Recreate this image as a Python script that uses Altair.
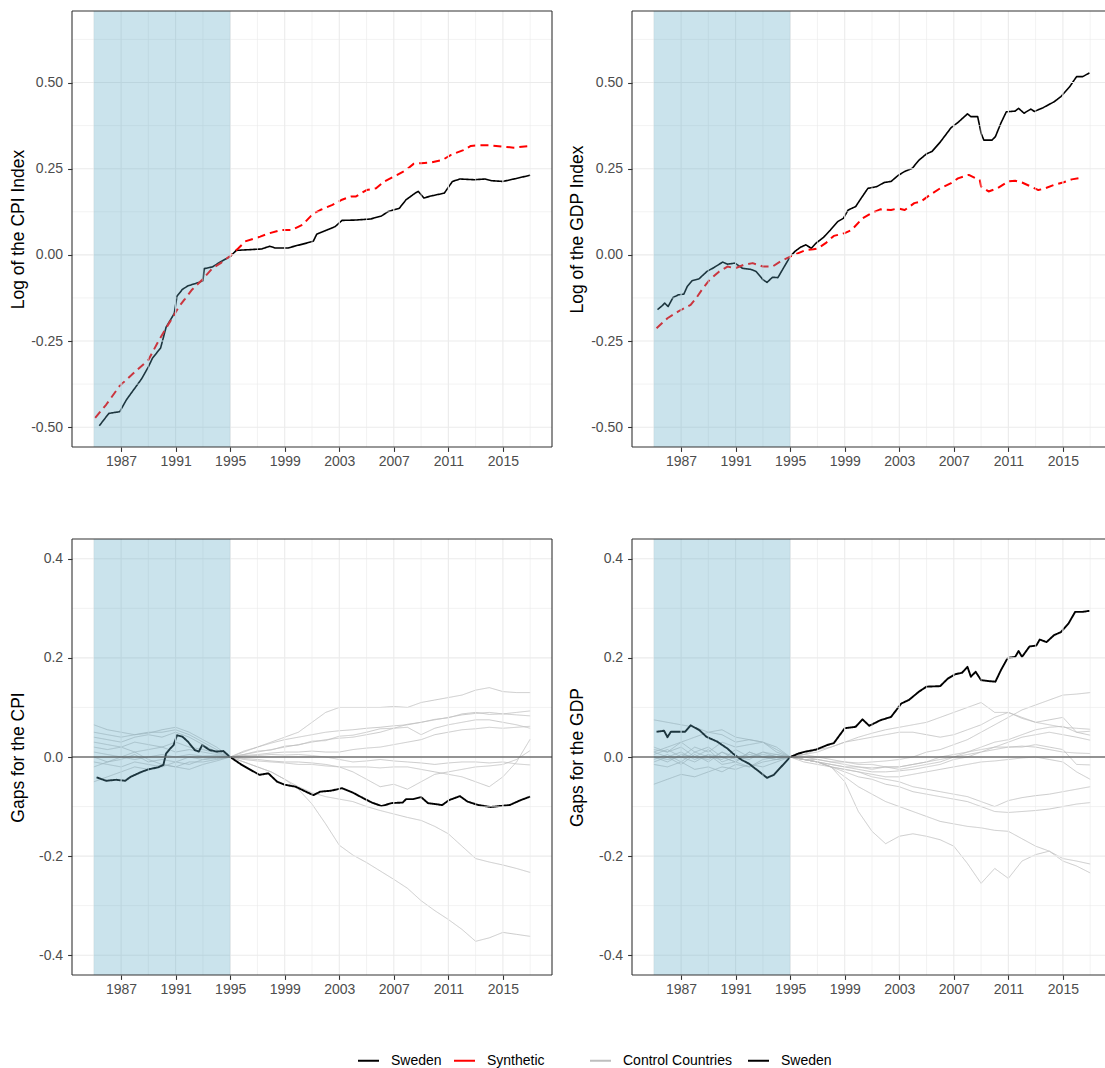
import altair as alt
import pandas as pd

FONT = "Liberation Sans"
GRID = "#EBEBEB"
FRAME = "#333333"
SHADE = "#59A8C4"

# shaded pre-treatment window
shade_start = [1985]
shade_end = [1995]

# axis ticks and minor grid positions
year_ticks = [1987, 1991, 1995, 1999, 2003, 2007, 2011, 2015]
year_minor = [1985, 1989, 1993, 1997, 2001, 2005, 2009, 2013, 2017]
level_ticks = [-0.5, -0.25, 0.0, 0.25, 0.5]
level_minor = [-0.375, -0.125, 0.125, 0.375, 0.625]
gap_ticks = [-0.4, -0.2, 0.0, 0.2, 0.4]
gap_minor = [-0.3, -0.1, 0.1, 0.3]

# ---- log CPI index: Sweden vs synthetic ----
cpi_sweden_years = [1985.4, 1986.1, 1986.9, 1987.4, 1988.5, 1989.0, 1989.3, 1989.9, 1990.3, 1990.9,
                    1991.1, 1991.5, 1991.9, 1992.7, 1993.0, 1993.1, 1993.7, 1994.3, 1995.0, 1995.45,
                    1996.4, 1997.3, 1997.9, 1998.3, 1999.25, 1999.8, 2000.6, 2001.1, 2001.35, 2002.1,
                    2002.7, 2003.2, 2004.2, 2005.3, 2006.1, 2006.6, 2007.4, 2007.9, 2008.6, 2008.8,
                    2009.2, 2009.75, 2010.7, 2011.3, 2011.85, 2012.9, 2013.7, 2014.2, 2015.0, 2015.8, 2017.0]
cpi_sweden = [-0.496, -0.46, -0.455, -0.42, -0.36, -0.325, -0.30, -0.27, -0.21, -0.17,
              -0.12, -0.10, -0.09, -0.08, -0.075, -0.04, -0.035, -0.02, -0.005, 0.013,
              0.015, 0.017, 0.025, 0.02, 0.02, 0.026, 0.034, 0.04, 0.06, 0.072,
              0.082, 0.10, 0.101, 0.104, 0.113, 0.126, 0.135, 0.16, 0.18, 0.184,
              0.165, 0.171, 0.179, 0.213, 0.22, 0.218, 0.22, 0.215, 0.213, 0.22, 0.231]
cpi_synth_years = [1985.1, 1985.9, 1986.9, 1988.2, 1989.0, 1989.8, 1990.6, 1991.25, 1992.2, 1992.95,
                   1993.7, 1994.3, 1995.0, 1995.6, 1996.1, 1997.2, 1997.9, 1998.7, 1999.5, 2000.3,
                   2001.1, 2001.6, 2002.5, 2003.2, 2003.85, 2004.2, 2005.0, 2005.7, 2006.3, 2007.25,
                   2007.9, 2008.45, 2009.0, 2009.75, 2010.55, 2011.2, 2012.1, 2012.65, 2013.2, 2013.95,
                   2015.0, 2015.8, 2017.0]
cpi_synth = [-0.473, -0.435, -0.38, -0.333, -0.305, -0.246, -0.193, -0.15, -0.101, -0.072,
             -0.039, -0.024, -0.003, 0.019, 0.039, 0.053, 0.063, 0.072, 0.072, 0.087,
             0.12, 0.13, 0.145, 0.16, 0.169, 0.169, 0.188, 0.193, 0.213, 0.232,
             0.246, 0.264, 0.266, 0.268, 0.275, 0.29, 0.304, 0.316, 0.318, 0.318,
             0.314, 0.311, 0.316]

# ---- log GDP index: Sweden vs synthetic ----
gdp_sweden_years = [1985.27, 1985.6, 1985.8, 1986.05, 1986.4, 1986.8, 1987.2, 1987.45, 1987.8, 1988.3,
                    1988.9, 1989.4, 1990.05, 1990.4, 1990.95, 1991.5, 1992.1, 1992.5, 1993.0, 1993.3,
                    1993.7, 1994.1, 1994.45, 1995.0, 1995.35, 1995.75, 1996.15, 1996.55, 1996.9, 1997.45,
                    1997.95, 1998.5, 1998.9, 1999.25, 1999.8, 2000.2, 2000.7, 2001.35, 2001.9, 2002.4,
                    2002.9, 2003.4, 2003.95, 2004.45, 2005.0, 2005.4, 2006.0, 2006.8, 2007.3, 2008.0,
                    2008.25, 2008.75, 2009.0, 2009.2, 2009.8, 2010.05, 2010.45, 2010.85, 2011.5, 2011.75,
                    2012.15, 2012.65, 2012.9, 2013.55, 2014.35, 2014.85, 2015.5, 2016.0, 2016.45, 2016.95]
gdp_sweden = [-0.159, -0.148, -0.14, -0.15, -0.124, -0.116, -0.114, -0.092, -0.075, -0.07,
              -0.048, -0.037, -0.021, -0.027, -0.024, -0.039, -0.042, -0.048, -0.072, -0.08,
              -0.065, -0.066, -0.042, -0.005, 0.01, 0.022, 0.029, 0.019, 0.034, 0.051,
              0.072, 0.097, 0.106, 0.13, 0.14, 0.164, 0.193, 0.198, 0.21, 0.213,
              0.23, 0.242, 0.251, 0.275, 0.293, 0.30, 0.327, 0.369, 0.384, 0.409,
              0.401, 0.401, 0.353, 0.333, 0.333, 0.343, 0.382, 0.415, 0.417, 0.425,
              0.411, 0.423, 0.416, 0.427, 0.444, 0.459, 0.488, 0.517, 0.517, 0.528]
gdp_synth_years = [1985.2, 1986.0, 1986.8, 1987.7, 1988.1, 1988.6, 1989.1, 1989.8, 1990.4, 1990.95,
                   1991.6, 1992.25, 1993.0, 1993.7, 1994.3, 1995.0, 1995.6, 1996.15, 1996.7, 1997.05,
                   1997.6, 1998.2, 1999.0, 1999.5, 2000.3, 2000.95, 2001.6, 2002.4, 2002.9, 2003.4,
                   2004.1, 2004.6, 2005.25, 2006.0, 2006.8, 2007.3, 2008.1, 2008.6, 2008.9, 2009.0,
                   2009.55, 2010.2, 2011.0, 2011.5, 2012.0, 2012.55, 2013.2, 2013.7, 2014.35, 2015.0,
                   2015.65, 2016.45]
gdp_synth = [-0.213, -0.184, -0.164, -0.145, -0.126, -0.097, -0.072, -0.048, -0.034, -0.039,
             -0.029, -0.024, -0.034, -0.034, -0.019, -0.005, 0.005, 0.014, 0.016, 0.019,
             0.034, 0.055, 0.063, 0.072, 0.106, 0.121, 0.132, 0.13, 0.135, 0.13,
             0.15, 0.155, 0.174, 0.193, 0.208, 0.222, 0.232, 0.222, 0.217, 0.198,
             0.184, 0.193, 0.213, 0.215, 0.21, 0.2, 0.188, 0.193, 0.203, 0.21,
             0.219, 0.224]

# ---- CPI gaps (actual minus synthetic) ----
cpi_gap_years = [1985.2, 1985.9, 1986.65, 1987.3, 1987.7, 1988.5, 1989.0, 1989.7, 1990.1, 1990.3,
                 1990.6, 1990.85, 1991.1, 1991.5, 1991.9, 1992.4, 1992.7, 1992.95, 1993.5, 1994.0,
                 1994.5, 1995.0, 1995.85, 1996.5, 1997.15, 1997.8, 1998.45, 1999.0, 1999.8, 2000.55,
                 2001.1, 2001.6, 2002.4, 2003.2, 2004.0, 2004.75, 2005.4, 2006.1, 2006.85, 2007.65,
                 2007.9, 2008.4, 2009.0, 2009.5, 2010.55, 2011.05, 2011.85, 2012.4, 2013.2, 2014.1,
                 2014.75, 2015.5, 2016.3, 2017.0]
cpi_gap_sweden = [-0.041, -0.048, -0.046, -0.048, -0.04, -0.03, -0.025, -0.021, -0.016, 0.007,
                  0.017, 0.024, 0.044, 0.041, 0.031, 0.014, 0.011, 0.024, 0.014, 0.011,
                  0.012, 0.0, -0.016, -0.026, -0.036, -0.033, -0.05, -0.056, -0.06, -0.07,
                  -0.077, -0.07, -0.068, -0.063, -0.072, -0.083, -0.092, -0.099, -0.093, -0.092,
                  -0.085, -0.085, -0.081, -0.093, -0.097, -0.087, -0.079, -0.09, -0.097, -0.101,
                  -0.099, -0.097, -0.087, -0.08]

# placebo gaps for the control countries, one value per year 1985-2017
control_years = [1985, 1986, 1987, 1988, 1989, 1990, 1991, 1992, 1993, 1994, 1995,
                 1996, 1997, 1998, 1999, 2000, 2001, 2002, 2003, 2004, 2005, 2006,
                 2007, 2008, 2009, 2010, 2011, 2012, 2013, 2014, 2015, 2016, 2017]
cpi_controls = [
    [0.065, 0.055, 0.05, 0.045, 0.048, 0.055, 0.06, 0.05, 0.035, 0.02, 0.0,
     0.012, 0.02, 0.03, 0.04, 0.05, 0.07, 0.09, 0.1, 0.1, 0.1, 0.1, 0.102, 0.1, 0.11, 0.115, 0.12,
     0.125, 0.135, 0.14, 0.132, 0.13, 0.13],
    [0.05, 0.045, 0.04, 0.045, 0.05, 0.05, 0.055, 0.045, 0.03, 0.015, 0.0,
     0.005, 0.012, 0.014, 0.022, 0.024, 0.032, 0.033, 0.042, 0.044, 0.05, 0.057, 0.058, 0.066, 0.07,
     0.076, 0.079, 0.087, 0.09, 0.086, 0.087, 0.09, 0.093],
    [0.04, 0.035, 0.03, 0.04, 0.045, 0.04, 0.05, 0.04, 0.025, 0.01, 0.0,
     0.01, 0.02, 0.028, 0.035, 0.04, 0.045, 0.05, 0.053, 0.055, 0.058, 0.06, 0.063, 0.065, 0.07,
     0.075, 0.08, 0.085, 0.088, 0.09, 0.087, 0.085, 0.083],
    [0.03, 0.025, 0.02, 0.03, 0.025, 0.02, 0.03, 0.02, 0.015, 0.008, 0.0,
     0.005, 0.01, 0.015, 0.02, 0.025, 0.03, 0.035, 0.038, 0.04, 0.045, 0.05, 0.058, 0.06, 0.045,
     0.058, 0.065, 0.07, 0.075, 0.075, 0.07, 0.065, 0.058],
    [0.02, 0.015, 0.02, 0.01, 0.015, 0.02, 0.01, 0.015, 0.01, 0.005, 0.0,
     0.003, 0.005, 0.008, 0.01, 0.01, 0.012, 0.01, 0.01, 0.015, 0.018, 0.02, 0.025, 0.03, 0.035,
     0.045, 0.05, 0.055, 0.057, 0.06, 0.058, 0.06, 0.062],
    [0.01, 0.005, 0.0, -0.005, 0.0, 0.005, 0.0, 0.005, 0.002, 0.003, 0.0,
     -0.005, -0.008, -0.01, -0.012, -0.015, -0.015, -0.018, -0.02, -0.02, -0.02, -0.022, -0.02,
     -0.02, -0.025, -0.03, -0.035, -0.04, -0.05, -0.06, -0.04, -0.01, 0.036],
    [0.0, -0.01, -0.005, 0.005, -0.01, -0.005, -0.01, 0.0, -0.005, 0.0, 0.0,
     -0.003, -0.005, -0.008, -0.01, -0.01, -0.012, -0.015, -0.02, -0.03, -0.045, -0.06, -0.055,
     -0.065, -0.05, -0.035, -0.03, -0.025, -0.02, -0.018, -0.015, -0.005, 0.013],
    [-0.01, -0.015, -0.02, -0.01, -0.015, -0.02, -0.01, -0.015, -0.005, -0.003, 0.0,
     0.002, 0.003, 0.005, 0.004, 0.005, 0.003, 0.0, -0.005, -0.01, -0.008, -0.005, -0.008, -0.01,
     -0.012, -0.015, -0.012, -0.01, -0.01, -0.012, -0.01, -0.014, -0.016],
    [-0.02, -0.01, 0.0, 0.01, -0.005, -0.015, -0.02, -0.01, -0.01, -0.005, 0.0,
     -0.01, -0.02, -0.03, -0.045, -0.06, -0.072, -0.08, -0.085, -0.09, -0.1, -0.108, -0.115,
     -0.122, -0.128, -0.14, -0.155, -0.18, -0.205, -0.212, -0.218, -0.225, -0.233],
    [-0.05, -0.04, -0.03, -0.02, -0.025, -0.015, -0.02, -0.025, -0.015, -0.008, 0.0,
     -0.01, -0.02, -0.03, -0.045, -0.065, -0.095, -0.135, -0.178, -0.198, -0.213, -0.23, -0.247,
     -0.265, -0.29, -0.31, -0.328, -0.348, -0.372, -0.365, -0.354, -0.358, -0.362],
]

# ---- GDP gaps (actual minus synthetic) ----
gdp_gap_years = [1985.2, 1985.75, 1986.0, 1986.25, 1987.3, 1987.7, 1988.35, 1988.85, 1989.65, 1990.4,
                 1990.8, 1991.45, 1991.95, 1992.75, 1993.3, 1993.8, 1994.3, 1995.0, 1995.6, 1996.15,
                 1996.9, 1997.7, 1998.2, 1999.0, 1999.8, 2000.3, 2000.8, 2001.6, 2002.4, 2003.15,
                 2003.7, 2004.45, 2005.0, 2006.0, 2006.55, 2007.1, 2007.6, 2008.0, 2008.25, 2008.6,
                 2009.0, 2009.65, 2010.05, 2010.45, 2010.95, 2011.5, 2011.75, 2012.0, 2012.55, 2013.05,
                 2013.3, 2013.8, 2014.35, 2014.85, 2015.4, 2015.9, 2016.45, 2016.95]
gdp_gap_sweden = [0.051, 0.053, 0.04, 0.051, 0.051, 0.064, 0.054, 0.041, 0.031, 0.017,
                  0.007, -0.006, -0.013, -0.03, -0.042, -0.036, -0.021, 0.0, 0.007, 0.011,
                  0.015, 0.024, 0.028, 0.058, 0.061, 0.076, 0.063, 0.074, 0.081, 0.108,
                  0.115, 0.132, 0.142, 0.143, 0.158, 0.167, 0.17, 0.182, 0.162, 0.172,
                  0.155, 0.153, 0.152, 0.175, 0.2, 0.202, 0.214, 0.202, 0.223, 0.225,
                  0.237, 0.232, 0.246, 0.252, 0.269, 0.293, 0.293, 0.295]
gdp_controls = [
    [0.075, 0.07, 0.065, 0.06, 0.05, 0.055, 0.04, 0.035, 0.03, 0.02, 0.0,
     0.005, 0.0, -0.005, -0.01, -0.012, -0.01, -0.008, -0.005, 0.0, 0.01, 0.015, 0.025, 0.035,
     0.05, 0.065, 0.08, 0.095, 0.105, 0.115, 0.125, 0.127, 0.13],
    [0.01, 0.02, 0.03, 0.04, 0.05, 0.045, 0.03, 0.035, 0.03, 0.015, 0.0,
     0.005, 0.01, 0.02, 0.03, 0.04, 0.048, 0.055, 0.06, 0.065, 0.07, 0.08, 0.09, 0.1, 0.11,
     0.09, 0.09, 0.08, 0.07, 0.065, 0.06, 0.058, 0.056],
    [0.005, 0.015, 0.0, 0.02, 0.01, 0.03, 0.02, 0.025, 0.03, 0.01, 0.0,
     0.005, 0.015, 0.02, 0.03, 0.035, 0.04, 0.045, 0.05, 0.05, 0.045, 0.04, 0.045, 0.055, 0.065,
     0.08, 0.09, 0.078, 0.07, 0.075, 0.08, 0.05, 0.052],
    [0.0, -0.01, 0.005, 0.0, -0.005, 0.01, 0.0, 0.005, 0.0, 0.005, 0.0,
     0.0, -0.005, -0.01, -0.015, -0.02, -0.022, -0.02, -0.025, -0.02, -0.015, -0.01, 0.0, 0.01,
     0.02, 0.03, 0.035, 0.045, 0.055, 0.06, 0.062, 0.05, 0.044],
    [-0.005, 0.005, -0.01, 0.01, 0.0, -0.005, 0.015, 0.0, 0.01, 0.005, 0.0,
     -0.005, -0.01, -0.015, -0.02, -0.025, -0.03, -0.03, -0.028, -0.025, -0.02, -0.015, -0.005,
     0.0, 0.01, 0.02, 0.03, 0.04, 0.045, 0.05, 0.045, 0.04, 0.034],
    [0.01, 0.0, 0.01, -0.005, 0.005, 0.0, -0.01, 0.01, 0.0, -0.005, 0.0,
     -0.005, -0.01, -0.015, -0.02, -0.02, -0.025, -0.02, -0.02, -0.015, -0.01, 0.0, 0.005, 0.01,
     0.015, 0.02, 0.02, 0.022, 0.02, 0.015, 0.01, 0.008, 0.007],
    [-0.01, 0.0, -0.015, 0.005, -0.01, 0.01, -0.005, 0.0, 0.005, 0.0, 0.0,
     -0.005, -0.005, -0.01, -0.01, -0.015, -0.015, -0.02, -0.02, -0.015, -0.01, -0.005, 0.0,
     0.005, 0.01, 0.015, 0.02, 0.02, 0.025, 0.02, 0.015, -0.015, -0.016],
    [0.015, 0.01, 0.02, 0.0, 0.015, -0.01, 0.0, -0.005, 0.01, 0.0, 0.0,
     -0.01, -0.015, -0.02, -0.025, -0.03, -0.035, -0.04, -0.04, -0.035, -0.03, -0.025, -0.02,
     -0.015, -0.01, -0.008, -0.005, -0.002, 0.0, -0.005, -0.01, -0.03, -0.045],
    [-0.015, -0.02, -0.01, -0.025, -0.02, -0.03, -0.015, -0.02, -0.01, -0.005, 0.0,
     -0.005, -0.01, -0.02, -0.025, -0.03, -0.04, -0.045, -0.05, -0.06, -0.065, -0.07, -0.075,
     -0.08, -0.09, -0.1, -0.088, -0.082, -0.078, -0.075, -0.07, -0.065, -0.06],
    [0.0, -0.005, 0.0, -0.01, 0.005, -0.015, -0.01, -0.02, -0.005, 0.0, 0.0,
     -0.005, -0.01, -0.02, -0.03, -0.04, -0.045, -0.055, -0.06, -0.07, -0.075, -0.08, -0.085,
     -0.09, -0.1, -0.11, -0.112, -0.11, -0.108, -0.105, -0.1, -0.095, -0.092],
    [-0.055, -0.045, -0.035, -0.04, -0.03, -0.02, -0.025, -0.015, -0.02, -0.01, 0.0,
     -0.005, -0.01, -0.02, -0.04, -0.06, -0.075, -0.09, -0.1, -0.11, -0.12, -0.13, -0.135,
     -0.14, -0.143, -0.148, -0.15, -0.165, -0.18, -0.19, -0.205, -0.21, -0.216],
    [0.02, 0.01, 0.03, 0.01, 0.02, 0.0, -0.01, 0.01, 0.0, -0.005, 0.0,
     -0.005, -0.01, -0.02, -0.05, -0.11, -0.15, -0.175, -0.16, -0.155, -0.16, -0.167, -0.18,
     -0.215, -0.255, -0.225, -0.245, -0.21, -0.197, -0.19, -0.21, -0.22, -0.234],
]

# ---------------------------------------------------------------- layout
PAGE_W, PAGE_H = 1105, 1068
LEFT, TOP = 72, 11
W_LEFT = 480
W_RIGHT = 473
H = 436
X_MIN, X_MAX = 1983.4, 2018.6
X_MAX_RIGHT = X_MIN + (X_MAX - X_MIN) * W_RIGHT / W_LEFT
LEVEL_DOMAIN = [-0.5575, 0.7075]
GAP_DOMAIN = [-0.44, 0.44]


def series_frame(pairs):
    rows = []
    for series, style, line, years, values in pairs:
        for y, v in zip(years, values):
            rows.append({"series": series, "style": style, "line": line, "year": y, "value": v})
    return pd.DataFrame(rows)


level_cpi = series_frame([("Sweden", "solid", "Sweden", cpi_sweden_years, cpi_sweden),
                          ("Synthetic", "dashed", "Synthetic", cpi_synth_years, cpi_synth)])
level_gdp = series_frame([("Sweden", "solid", "Sweden", gdp_sweden_years, gdp_sweden),
                          ("Synthetic", "dashed", "Synthetic", gdp_synth_years, gdp_synth)])
gap_cpi = series_frame([("Control Countries", "thin", f"c{i}", control_years, vals)
                        for i, vals in enumerate(cpi_controls)]
                       + [("Sweden", "thick", "Sweden", cpi_gap_years, cpi_gap_sweden)])
gap_gdp = series_frame([("Control Countries", "thin", f"g{i}", control_years, vals)
                        for i, vals in enumerate(gdp_controls)]
                       + [("Sweden", "thick", "Sweden", gdp_gap_years, gdp_gap_sweden)])


def make_legend(lx, ly, gap):
    return alt.Legend(orient="none", legendX=lx, legendY=ly, direction="horizontal",
                      title=None, symbolType="stroke", symbolSize=441, symbolStrokeWidth=2,
                      labelFont=FONT, labelFontSize=14, labelColor="black",
                      labelOffset=11, columnPadding=gap)


def panel(df, domain, colors, styles, dashes, widths, y_title, y_domain, y_ticks, y_minor,
          y_fmt, width, x_max, title_x, legend, zero_line, right_edge):
    xs = alt.Scale(domain=[X_MIN, x_max], nice=False, zero=False)
    ys = alt.Scale(domain=y_domain, nice=False, zero=False)
    label_expr = f"replace(format(datum.value, '{y_fmt}'), '\u2212', '-')"
    x_axis = alt.Axis(values=year_ticks, format="d", title=None, labelPadding=3, domain=False)
    y_axis = alt.Axis(values=y_ticks, labelExpr=label_expr, title=y_title,
                      titleX=title_x, titleY=H / 2, titleAngle=270,
                      labelPadding=5, domain=False)

    def xe(field):
        return alt.X(field, scale=xs, axis=x_axis)

    def ye(field):
        return alt.Y(field, scale=ys, axis=y_axis)

    def vgrid(values, w):
        return alt.Chart(pd.DataFrame({"year": values})).mark_rule(
            color=GRID, strokeWidth=w).encode(x=xe("year:Q"))

    def hgrid(values, w):
        return alt.Chart(pd.DataFrame({"value": values})).mark_rule(
            color=GRID, strokeWidth=w).encode(y=ye("value:Q"))

    lines = alt.Chart(df).mark_line(strokeJoin="round").encode(
        x=xe("year:Q"),
        y=ye("value:Q"),
        color=alt.Color("series:N", scale=alt.Scale(domain=domain, range=colors), legend=legend),
        strokeDash=alt.StrokeDash("style:N", scale=alt.Scale(domain=styles, range=dashes),
                                  legend=None),
        strokeWidth=alt.StrokeWidth("style:N", scale=alt.Scale(domain=styles, range=widths),
                                    legend=None),
        detail="line:N",
    )

    shade = alt.Chart(pd.DataFrame({"start": shade_start, "end": shade_end})).mark_rect(
        color=SHADE, opacity=0.32).encode(
        x=xe("start:Q"), x2="end:Q", y=alt.value(0), y2=alt.value(H))

    # panel frame
    one = pd.DataFrame({"k": [0]})
    frame = [
        alt.Chart(one).mark_rule(color=FRAME, strokeWidth=1.1).encode(
            x=alt.value(0), x2=alt.value(width), y=alt.value(0)),
        alt.Chart(one).mark_rule(color=FRAME, strokeWidth=1.1).encode(
            x=alt.value(0), x2=alt.value(width), y=alt.value(H)),
        alt.Chart(one).mark_rule(color=FRAME, strokeWidth=1.1).encode(
            x=alt.value(0), y=alt.value(0), y2=alt.value(H)),
    ]
    if right_edge:
        frame.append(alt.Chart(one).mark_rule(color=FRAME, strokeWidth=1.1).encode(
            x=alt.value(width), y=alt.value(0), y2=alt.value(H)))

    layers = [lines, vgrid(year_minor, 0.6), hgrid(y_minor, 0.6),
              vgrid(year_ticks, 1.1), hgrid(y_ticks, 1.1), shade]
    if zero_line:
        layers.append(alt.Chart(pd.DataFrame({"value": [0.0]})).mark_rule(
            color=FRAME, strokeWidth=1.1).encode(y=ye("value:Q")))
    layers.extend(frame)
    return alt.layer(*layers).properties(width=width, height=H)


level_domain = ["Sweden", "Synthetic"]
level_colors = ["#000000", "#FF0000"]
level_styles = ["solid", "dashed"]
level_dash = [[1, 0], [8, 5]]
level_width = [1.6, 2.0]

gap_domain = ["Control Countries", "Sweden"]
gap_colors = ["#BEBEBE", "#000000"]
gap_styles = ["thin", "thick"]
gap_dash = [[1, 0], [1, 0]]
gap_width = [0.8, 1.9]

tl = panel(level_cpi, level_domain, level_colors, level_styles, level_dash, level_width,
           "Log of the CPI Index", LEVEL_DOMAIN, level_ticks, level_minor, ".2f",
           W_LEFT, X_MAX, -45, make_legend(285, 1038, 8), False, True)
tr = panel(level_gdp, level_domain, level_colors, level_styles, level_dash, level_width,
           "Log of the GDP Index", LEVEL_DOMAIN, level_ticks, level_minor, ".2f",
           W_RIGHT, X_MAX_RIGHT, -45.5, None, False, False)
bl = panel(gap_cpi, gap_domain, gap_colors, gap_styles, gap_dash, gap_width,
           "Gaps for the CPI", GAP_DOMAIN, gap_ticks, gap_minor, ".1f",
           W_LEFT, X_MAX, -45, make_legend(517, 510, 12), True, True)
br = panel(gap_gdp, gap_domain, gap_colors, gap_styles, gap_dash, gap_width,
           "Gaps for the GDP", GAP_DOMAIN, gap_ticks, gap_minor, ".1f",
           W_RIGHT, X_MAX_RIGHT, -45.5, None, True, False)

# the page size is fixed through the padding; the grid is anchored at (LEFT, TOP)
chart = alt.concat(
    tl, tr, bl, br, columns=2, spacing={"row": 92, "column": 80}, bounds="flush"
).resolve_scale(
    color="independent", strokeDash="independent", strokeWidth="independent"
).resolve_legend(
    color="independent"
).properties(
    autosize=alt.AutoSizeParams(type="none"),
    padding={"left": LEFT, "top": TOP, "right": PAGE_W - LEFT, "bottom": PAGE_H - TOP},
    background="white",
).configure_view(
    stroke=None
).configure_axis(
    labelFont=FONT, labelFontSize=14, labelColor="#4D4D4D",
    tickColor=FRAME, tickSize=4.4, tickWidth=1.1,
    titleFont=FONT, titleFontSize=17.5, titleFontWeight="normal", titleColor="black",
    grid=False,
)

chart.save("out.html", embed_options={"renderer": "svg", "actions": False})
